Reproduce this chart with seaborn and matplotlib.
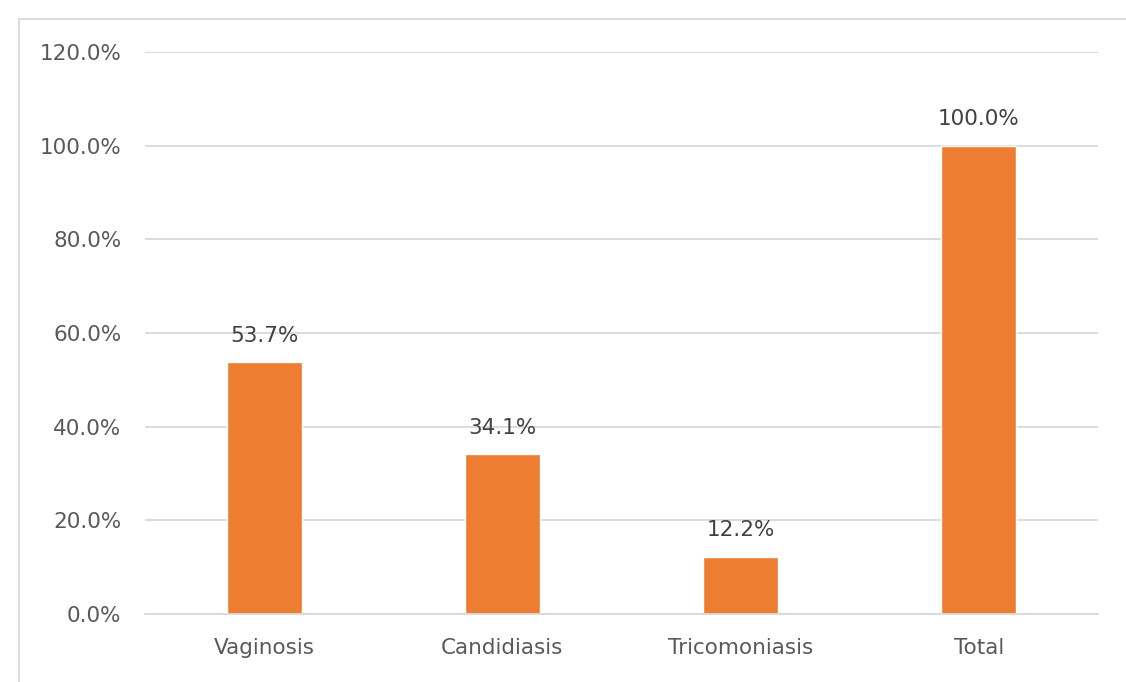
import pandas as pd
import matplotlib.pyplot as plt
import seaborn as sns
from matplotlib.lines import Line2D
from matplotlib.ticker import FuncFormatter

# values
categories = ['Vaginosis', 'Candidiasis', 'Tricomoniasis', 'Total']
percent = [53.7, 34.1, 12.2, 100.0]
y_ticks = [0, 20, 40, 60, 80, 100, 120]

df = pd.DataFrame({'category': categories, 'percent': percent})

sns.set_style('white')
plt.rcParams['font.family'] = ['DejaVu Sans']

text_col = '#595959'
grid_col = '#D9D9D9'
bar_col = '#ED7D31'

fig = plt.figure(figsize=(11.26, 6.82), dpi=100)
ax = fig.add_axes([0.1288, 0.0997, 0.8462, 0.8241])

sns.barplot(data=df, x='category', y='percent', color=bar_col,
            width=0.315, saturation=1, ax=ax)

ax.set_ylim(0, 120)
ax.set_xlim(-0.5, len(categories) - 0.5)
ax.set_yticks(y_ticks)
ax.yaxis.set_major_formatter(FuncFormatter(lambda v, p: f'{v:.1f}%'))
ax.yaxis.grid(True, color=grid_col, linewidth=1.3)
ax.set_axisbelow(True)
for s in ['top', 'right', 'left']:
    ax.spines[s].set_visible(False)
ax.spines['bottom'].set_color(grid_col)
ax.spines['bottom'].set_linewidth(1.3)
ax.tick_params(axis='both', length=0, labelsize=15.5, colors=text_col)
ax.tick_params(axis='y', pad=17)
ax.tick_params(axis='x', pad=17)
ax.set_xlabel('')
ax.set_ylabel('')

ax.bar_label(ax.containers[0], labels=[f'{v:.1f}%' for v in percent],
             padding=12, fontsize=15.5, color='#404040')

# light frame of the chart area
fig.add_artist(Line2D([19 / 1126, 1], [1 - 19 / 682, 1 - 19 / 682],
                      color=grid_col, linewidth=1.3))
fig.add_artist(Line2D([19 / 1126, 19 / 1126], [0, 1 - 19 / 682],
                      color=grid_col, linewidth=1.3))

fig.savefig('out.png', dpi=100)
